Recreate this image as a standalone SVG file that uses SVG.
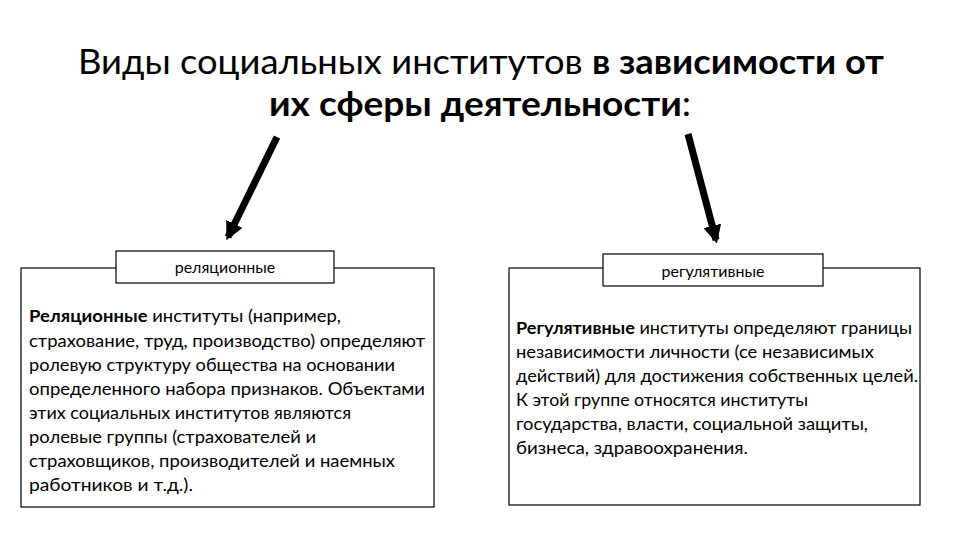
<svg xmlns="http://www.w3.org/2000/svg" width="960" height="540" viewBox="0 0 960 540">
<style>
text{font-family:Lato,"Open Sans",sans-serif;fill:#000}
.t{font-size:34px}
.b{font-size:17.5px}
.box{fill:#fff;stroke:#000;stroke-width:1.2}
</style>
<defs><marker id="ah" viewBox="0 0 10 10" refX="8" refY="5" markerWidth="2.6" markerHeight="2.6" orient="auto"><path d="M0,0L10,5L0,10z" fill="#000"/></marker></defs>
<rect width="960" height="540" fill="#fff"/>
<g id="title"><text class="t" x="78" y="74" textLength="806" lengthAdjust="spacingAndGlyphs">Виды социальных институтов <tspan font-weight="bold">в зависимости от</tspan></text>
<text class="t" x="269" y="116" textLength="422" lengthAdjust="spacingAndGlyphs"><tspan font-weight="bold">их сферы деятельности</tspan>:</text></g>
<g id="connectors" stroke="#000" stroke-width="7" marker-end="url(#ah)">
<line x1="277" y1="137" x2="228" y2="237"/>
<line x1="688" y1="134" x2="716" y2="240"/>
</g>
<g id="left">
<rect class="box" x="21" y="268" width="413" height="239"/>
<rect class="box" x="116" y="251" width="218" height="32"/>
<text x="225" y="273" text-anchor="middle" font-size="16">реляционные</text>
<text class="b" x="29" y="322" textLength="312" lengthAdjust="spacingAndGlyphs"><tspan font-weight="bold">Реляционные</tspan> институты (например,</text>
<text class="b" x="29" y="347" textLength="396" lengthAdjust="spacingAndGlyphs">страхование, труд, производство) определяют</text>
<text class="b" x="29" y="371" textLength="366" lengthAdjust="spacingAndGlyphs">ролевую структуру общества на основании</text>
<text class="b" x="29" y="395" textLength="396" lengthAdjust="spacingAndGlyphs">определенного набора признаков. Объектами</text>
<text class="b" x="29" y="419" textLength="322" lengthAdjust="spacingAndGlyphs">этих социальных институтов являются</text>
<text class="b" x="29" y="443" textLength="287" lengthAdjust="spacingAndGlyphs">ролевые группы (страхователей и</text>
<text class="b" x="29" y="467" textLength="366" lengthAdjust="spacingAndGlyphs">страховщиков, производителей и наемных</text>
<text class="b" x="29" y="491" textLength="164" lengthAdjust="spacingAndGlyphs">работников и т.д.).</text>
</g>
<g id="right">
<rect class="box" x="509" y="268" width="411" height="237"/>
<rect class="box" x="603" y="254" width="220" height="32"/>
<text x="713" y="277" text-anchor="middle" font-size="16">регулятивные</text>
<text class="b" x="516" y="334" textLength="396" lengthAdjust="spacingAndGlyphs"><tspan font-weight="bold">Регулятивные</tspan> институты определяют границы</text>
<text class="b" x="516" y="358" textLength="358" lengthAdjust="spacingAndGlyphs">независимости личности (се независимых</text>
<text class="b" x="516" y="382" textLength="402" lengthAdjust="spacingAndGlyphs">действий) для достижения собственных целей.</text>
<text class="b" x="516" y="406" textLength="292" lengthAdjust="spacingAndGlyphs">К этой группе относятся институты</text>
<text class="b" x="516" y="430" textLength="352" lengthAdjust="spacingAndGlyphs">государства, власти, социальной защиты,</text>
<text class="b" x="516" y="454" textLength="232" lengthAdjust="spacingAndGlyphs">бизнеса, здравоохранения.</text>
</g>
</svg>
